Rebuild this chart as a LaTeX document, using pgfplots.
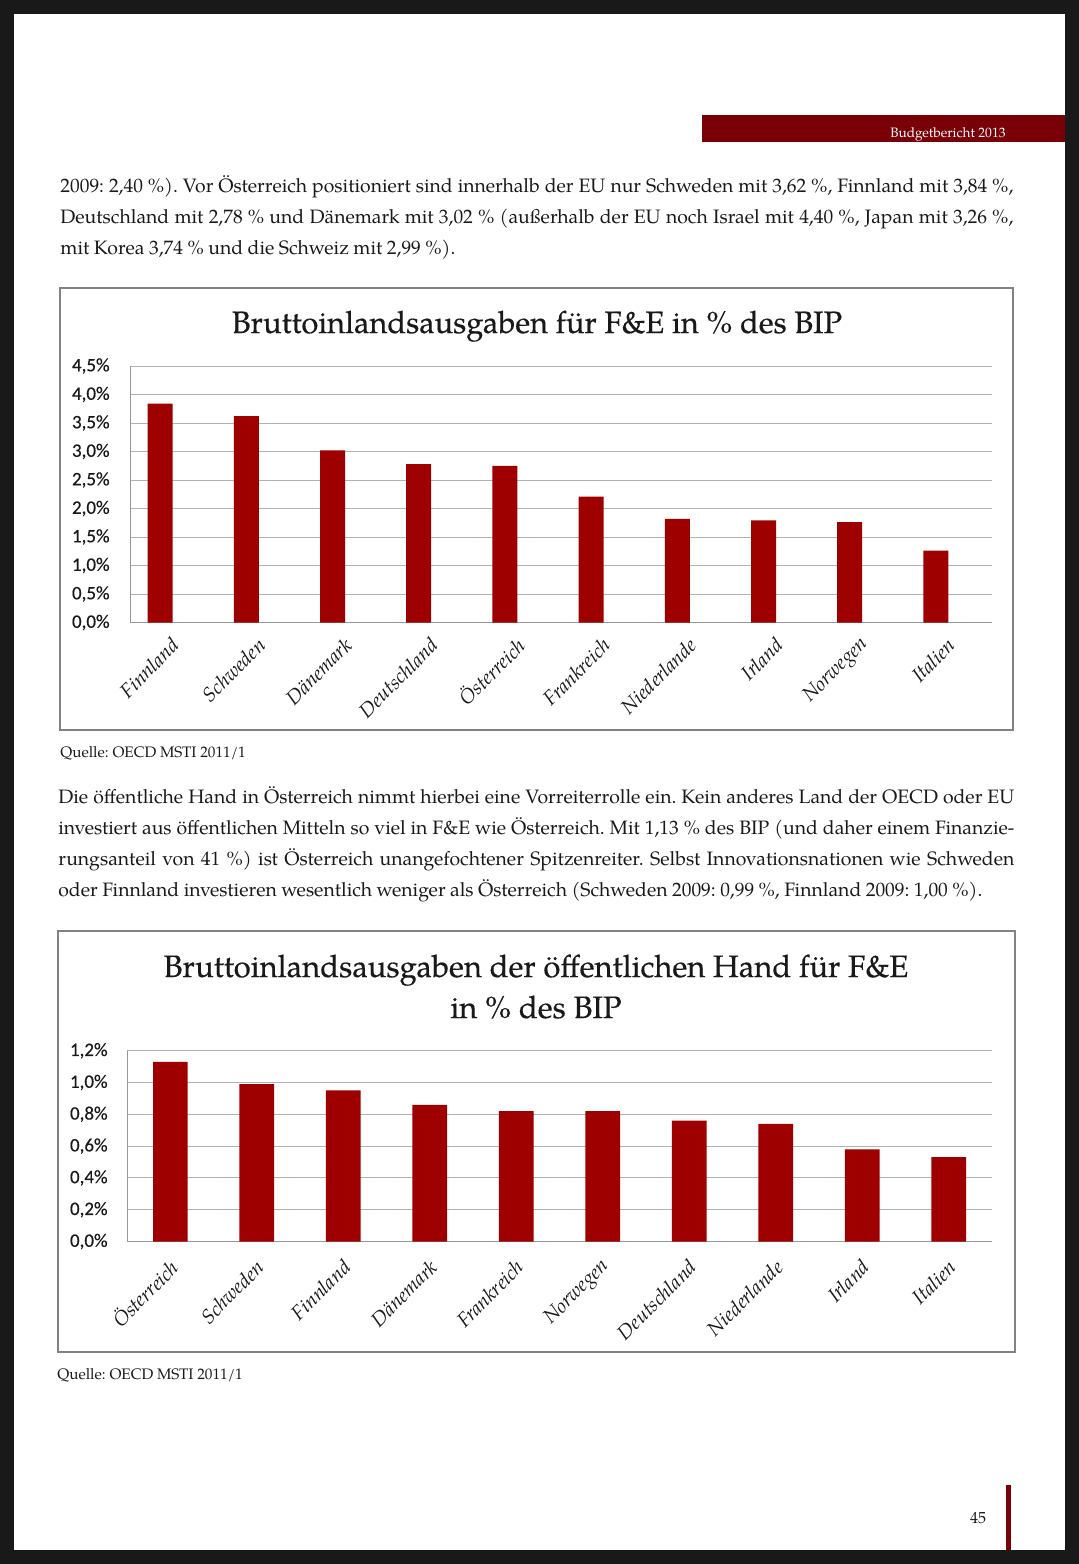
\documentclass[border=0pt]{standalone}
\usepackage{pgfplots}
\pgfplotsset{compat=1.18}
\usepackage{fontspec}
\setmainfont{texgyrepagella}[Extension=.otf, UprightFont=*-regular, ItalicFont=*-italic, BoldFont=*-bold, BoldItalicFont=*-bolditalic]
\newfontfamily\titlefont{texgyrepagella}[Extension=.otf, UprightFont=*-regular, FakeBold=0.35]
\newfontfamily\calibri{Carlito}[FakeBold=0.3]
\definecolor{barred}{RGB}{158,0,0}
\definecolor{hdrred}{RGB}{122,0,8}
\definecolor{gridgray}{RGB}{178,178,178}
\definecolor{boxgray}{RGB}{130,130,130}
\definecolor{txt}{RGB}{25,25,25}
\newcommand{\jl}[4]{\node[anchor=base west, inner sep=0pt, text=txt, font=\fontsize{9.7}{12}\selectfont] at (#1,#2) {\makebox[#3][s]{#4}};}
\begin{document}
\frenchspacing
\begin{tikzpicture}
% page and scan border
\fill[black!90] (0pt,0pt) rectangle (539.5pt,-782pt);
\fill[white] (7pt,-7pt) rectangle (532.5pt,-775pt);
% header
\fill[hdrred] (351pt,-57.5pt) rectangle (532.5pt,-71pt);
\node[anchor=base east, text=white, inner sep=0pt, font=\fontsize{6.8}{8}\selectfont] at (503pt,-68.5pt) {Budgetbericht 2013};
% paragraph 1
\jl{30pt}{-96pt}{476.5pt}{2009: 2,40 \%). Vor Österreich positioniert sind innerhalb der EU nur Schweden mit 3,62 \%, Finnland mit 3,84 \%,}
\jl{30pt}{-111.5pt}{476.5pt}{Deutschland mit 2,78 \% und Dänemark mit 3,02 \% (außerhalb der EU noch Israel mit 4,40 \%, Japan mit 3,26 \%,}
\jl{30pt}{-127pt}{197.5pt}{mit Korea 3,74 \% und die Schweiz mit 2,99 \%).}
% chart 1 box
\draw[boxgray, line width=0.8pt] (30pt,-144pt) rectangle (506.5pt,-365pt);
\node[anchor=base, inner sep=0pt, text=txt, font=\titlefont\fontsize{15.4}{18}\selectfont] at (268.5pt,-166.5pt) {Bruttoinlandsausgaben für F\&E in \% des BIP};
\begin{axis}[
  at={(65pt,-311.25pt)}, anchor=south west,
  scale only axis, width=431pt, height=128.25pt,
  xmin=-0.5, xmax=9.5, ymin=0, ymax=4.5,
  axis x line*=bottom, axis y line*=left,
  axis line style={draw=gridgray!85!black, line width=0.5pt, -},
  ymajorgrids, grid style={draw=gridgray, line width=0.5pt},
  major tick length=0pt,
  ytick={0,0.5,1,1.5,2,2.5,3,3.5,4,4.5},
  yticklabels={{0,0\%},{0,5\%},{1,0\%},{1,5\%},{2,0\%},{2,5\%},{3,0\%},{3,5\%},{4,0\%},{4,5\%}},
  yticklabel style={anchor=east, inner sep=0pt, xshift=-10pt, font=\calibri\fontsize{9.5}{11}\selectfont, text=txt},
  xtick={0,1,2,3,4,5,6,7,8,9},
  xticklabels={Finnland,Schweden,Dänemark,Deutschland,Österreich,Frankreich,Niederlande,Irland,Norwegen,Italien},
  xticklabel style={xshift=1.5pt, yshift=-9.5pt, rotate=45, anchor=east, inner sep=0pt, font=\itshape\fontsize{10}{12}\selectfont, text=txt},
]
\addplot[ybar, bar width=12.5pt, bar shift=-6.5pt, fill=barred, draw=none] coordinates {
(0,3.84) (1,3.62) (2,3.02) (3,2.78) (4,2.75) (5,2.21) (6,1.82) (7,1.79) (8,1.76) (9,1.26)};
\end{axis}
\node[anchor=base west, inner sep=0pt, text=txt, font=\fontsize{7.6}{9}\selectfont] at (30pt,-378.5pt) {Quelle: OECD MSTI 2011/1};
% paragraph 2
\jl{29pt}{-401.5pt}{478pt}{Die öffentliche Hand in Österreich nimmt hierbei eine Vorreiterrolle ein. Kein anderes Land der OECD oder EU}
\jl{29pt}{-417pt}{478pt}{investiert aus öffentlichen Mitteln so viel in F\&E wie Österreich. Mit 1,13 \% des BIP (und daher einem Finanzie-}
\jl{29pt}{-432.5pt}{478pt}{rungsanteil von 41 \%) ist Österreich unangefochtener Spitzenreiter. Selbst Innovationsnationen wie Schweden}
\jl{29pt}{-448pt}{462pt}{oder Finnland investieren wesentlich weniger als Österreich (Schweden 2009: 0,99 \%, Finnland 2009: 1,00 \%).}
% chart 2 box
\draw[boxgray, line width=0.8pt] (29pt,-465.5pt) rectangle (507.5pt,-676pt);
\node[anchor=base, inner sep=0pt, text=txt, font=\titlefont\fontsize{15.5}{18}\selectfont] at (268pt,-488.5pt) {Bruttoinlandsausgaben der öffentlichen Hand für F\&E};
\node[anchor=base, inner sep=0pt, text=txt, font=\titlefont\fontsize{15.5}{18}\selectfont] at (268pt,-509pt) {in \% des BIP};
\begin{axis}[
  at={(63.5pt,-620.75pt)}, anchor=south west,
  scale only axis, width=432.5pt, height=95.4pt,
  xmin=-0.5, xmax=9.5, ymin=0, ymax=1.2,
  axis x line*=bottom, axis y line*=left,
  axis line style={draw=gridgray!85!black, line width=0.5pt, -},
  ymajorgrids, grid style={draw=gridgray, line width=0.5pt},
  major tick length=0pt,
  ytick={0,0.2,0.4,0.6,0.8,1.0,1.2},
  yticklabels={{0,0\%},{0,2\%},{0,4\%},{0,6\%},{0,8\%},{1,0\%},{1,2\%}},
  yticklabel style={anchor=east, inner sep=0pt, xshift=-9.5pt, font=\calibri\fontsize{9.5}{11}\selectfont, text=txt},
  xtick={0,1,2,3,4,5,6,7,8,9},
  xticklabels={Österreich,Schweden,Finnland,Dänemark,Frankreich,Norwegen,Deutschland,Niederlande,Irland,Italien},
  xticklabel style={xshift=2pt, yshift=-11pt, rotate=45, anchor=east, inner sep=0pt, font=\itshape\fontsize{10}{12}\selectfont, text=txt},
]
\addplot[ybar, bar width=17.25pt, bar shift=0pt, fill=barred, draw=none] coordinates {
(0,1.13) (1,0.99) (2,0.95) (3,0.86) (4,0.82) (5,0.82) (6,0.76) (7,0.74) (8,0.58) (9,0.53)};
\end{axis}
\node[anchor=base west, inner sep=0pt, text=txt, font=\fontsize{7.6}{9}\selectfont] at (28.5pt,-689.5pt) {Quelle: OECD MSTI 2011/1};
% page number
\node[anchor=base, inner sep=0pt, text=txt, font=\fontsize{8}{9}\selectfont] at (489pt,-761.5pt) {45};
\fill[hdrred] (503pt,-742.5pt) rectangle (505.5pt,-775pt);
\end{tikzpicture}
\end{document}
